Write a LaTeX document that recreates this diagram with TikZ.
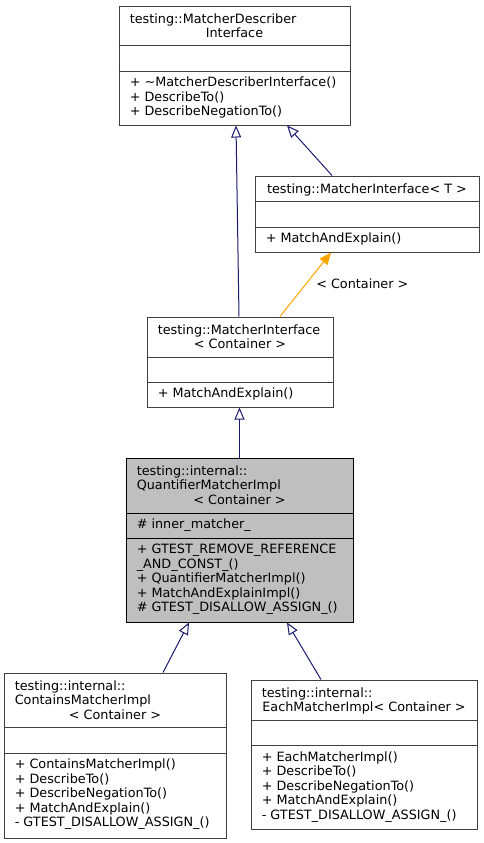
\documentclass[tikz,border=0pt]{standalone}
\usepackage{fontspec}
\setmainfont{DejaVu Sans}
\usetikzlibrary{arrows.meta,fit}
\definecolor{edgeblue}{HTML}{191970}
\definecolor{edgeorange}{HTML}{FFA500}
\definecolor{boxline}{HTML}{404040}
\definecolor{mainfill}{HTML}{BFBFBF}
\begin{document}
\begin{tikzpicture}[x=0.75pt,y=-0.75pt,
  box/.style={draw=boxline, line width=0.75pt, fill=white, inner sep=0pt},
  mainbox/.style={draw=black, line width=0.75pt, fill=mainfill, inner sep=0pt},
  div/.style={draw=boxline, line width=0.75pt},
  maindiv/.style={draw=black, line width=0.75pt},
  lt/.style={anchor=base west, inner sep=0pt, font=\fontsize{9.6pt}{10pt}\selectfont},
  ct/.style={anchor=base, inner sep=0pt, font=\fontsize{9.6pt}{10pt}\selectfont},
  inh/.style={draw=edgeblue, line width=0.75pt, -{Triangle[open,length=9pt,width=7.5pt,fill=white]}},
  tmpl/.style={draw=edgeorange, line width=0.75pt, -{Triangle[length=9pt,width=7.5pt,fill=edgeorange]}}]

\useasboundingbox (0,0) rectangle (483,843);

% ---------- boxes ----------
\node[box, fit={(119,6) (350,125)}] (b1) {};
\node[box, fit={(255,176) (479,252)}] (b2) {};
\node[box, fit={(147,317) (333,407)}] (b3) {};
\node[mainbox, fit={(126,458) (353,622)}] (b4) {};
\node[box, fit={(4,673) (226,838)}] (b5) {};
\node[box, fit={(251,680) (477,829)}] (b6) {};

% ---------- dividers ----------
\draw[div] (b1.west |- 0,45.5) -- (b1.east |- 0,45.5);
\draw[div] (b1.west |- 0,71) -- (b1.east |- 0,71);
\draw[div] (b2.west |- 0,201.5) -- (b2.east |- 0,201.5);
\draw[div] (b2.west |- 0,227) -- (b2.east |- 0,227);
\draw[div] (b3.west |- 0,357) -- (b3.east |- 0,357);
\draw[div] (b3.west |- 0,382) -- (b3.east |- 0,382);
\draw[maindiv] (b4.west |- 0,513) -- (b4.east |- 0,513);
\draw[maindiv] (b4.west |- 0,538) -- (b4.east |- 0,538);
\draw[div] (b5.west |- 0,727.5) -- (b5.east |- 0,727.5);
\draw[div] (b5.west |- 0,753) -- (b5.east |- 0,753);
\draw[div] (b6.west |- 0,720) -- (b6.east |- 0,720);
\draw[div] (b6.west |- 0,745.5) -- (b6.east |- 0,745.5);

% ---------- box 1 ----------
\node[lt] (b1t1) at (129.5,23) {testing::MatcherDescriber};
\node[ct] (b1t2) at (234.5,37.5) {Interface};
\node[lt] (b1m1) at (129.5,86.5) {+ \textasciitilde MatcherDescriberInterface()};
\node[lt] (b1m2) at (129.5,101) {+ DescribeTo()};
\node[lt] (b1m3) at (129.5,115.5) {+ DescribeNegationTo()};

% ---------- box 2 ----------
\node[ct] (b2t1) at (367,193) {testing::MatcherInterface< T >};
\node[lt] (b2m1) at (265.5,242.5) {+ MatchAndExplain()};

% ---------- box 3 ----------
\node[lt] (b3t1) at (157.5,334) {testing::MatcherInterface};
\node[ct] (b3t2) at (240,348.5) {< Container >};
\node[lt] (b3m1) at (157.5,397.5) {+ MatchAndExplain()};

% ---------- box 4 ----------
\node[lt] (b4t1) at (136.5,475) {testing::internal::};
\node[lt] (b4t2) at (136.5,489.5) {QuantifierMatcherImpl};
\node[ct] (b4t3) at (239.5,504) {< Container >};
\node[lt] (b4a1) at (136.5,528.5) {\# inner\_matcher\_};
\node[lt] (b4m1) at (136.5,553.5) {+ GTEST\_REMOVE\_REFERENCE};
\node[lt] (b4m2) at (136.5,568) {\_AND\_CONST\_()};
\node[lt] (b4m3) at (136.5,582.5) {+ QuantifierMatcherImpl()};
\node[lt] (b4m4) at (136.5,597) {+ MatchAndExplainImpl()};
\node[lt] (b4m5) at (136.5,611.5) {\# GTEST\_DISALLOW\_ASSIGN\_()};

% ---------- box 5 ----------
\node[lt] (b5t1) at (14.5,690) {testing::internal::};
\node[lt] (b5t2) at (14.5,704.5) {ContainsMatcherImpl};
\node[ct] (b5t3) at (115,719) {< Container >};
\node[lt] (b5m1) at (14.5,768.5) {+ ContainsMatcherImpl()};
\node[lt] (b5m2) at (14.5,783) {+ DescribeTo()};
\node[lt] (b5m3) at (14.5,797.5) {+ DescribeNegationTo()};
\node[lt] (b5m4) at (14.5,812) {+ MatchAndExplain()};
\node[lt] (b5m5) at (14.5,826.5) {- GTEST\_DISALLOW\_ASSIGN\_()};

% ---------- box 6 ----------
\node[lt] (b6t1) at (261.5,697) {testing::internal::};
\node[ct] (b6t2) at (364,711.5) {EachMatcherImpl< Container >};
\node[lt] (b6m1) at (261.5,761) {+ EachMatcherImpl()};
\node[lt] (b6m2) at (261.5,775.5) {+ DescribeTo()};
\node[lt] (b6m3) at (261.5,790) {+ DescribeNegationTo()};
\node[lt] (b6m4) at (261.5,804.5) {+ MatchAndExplain()};
\node[lt] (b6m5) at (261.5,819) {- GTEST\_DISALLOW\_ASSIGN\_()};

% ---------- connectors ----------
\draw[inh] (b3.north -| 239,0) -- (b1.south -| 236,0);
\draw[inh] (b2.north -| 332,0) -- (b1.south -| 287,0);
\draw[tmpl] (b3.north -| 280,0) -- (b2.south -| 331,0);
\node[lt] (lbl) at (316,288) {< Container >};
\draw[inh] (b4.north -| 239.5,0) -- (b3.south -| 239.5,0);
\draw[inh] (b5.north -| 163,0) -- (b4.south -| 189,0);
\draw[inh] (b6.north -| 321,0) -- (b4.south -| 287,0);
\end{tikzpicture}
\end{document}
